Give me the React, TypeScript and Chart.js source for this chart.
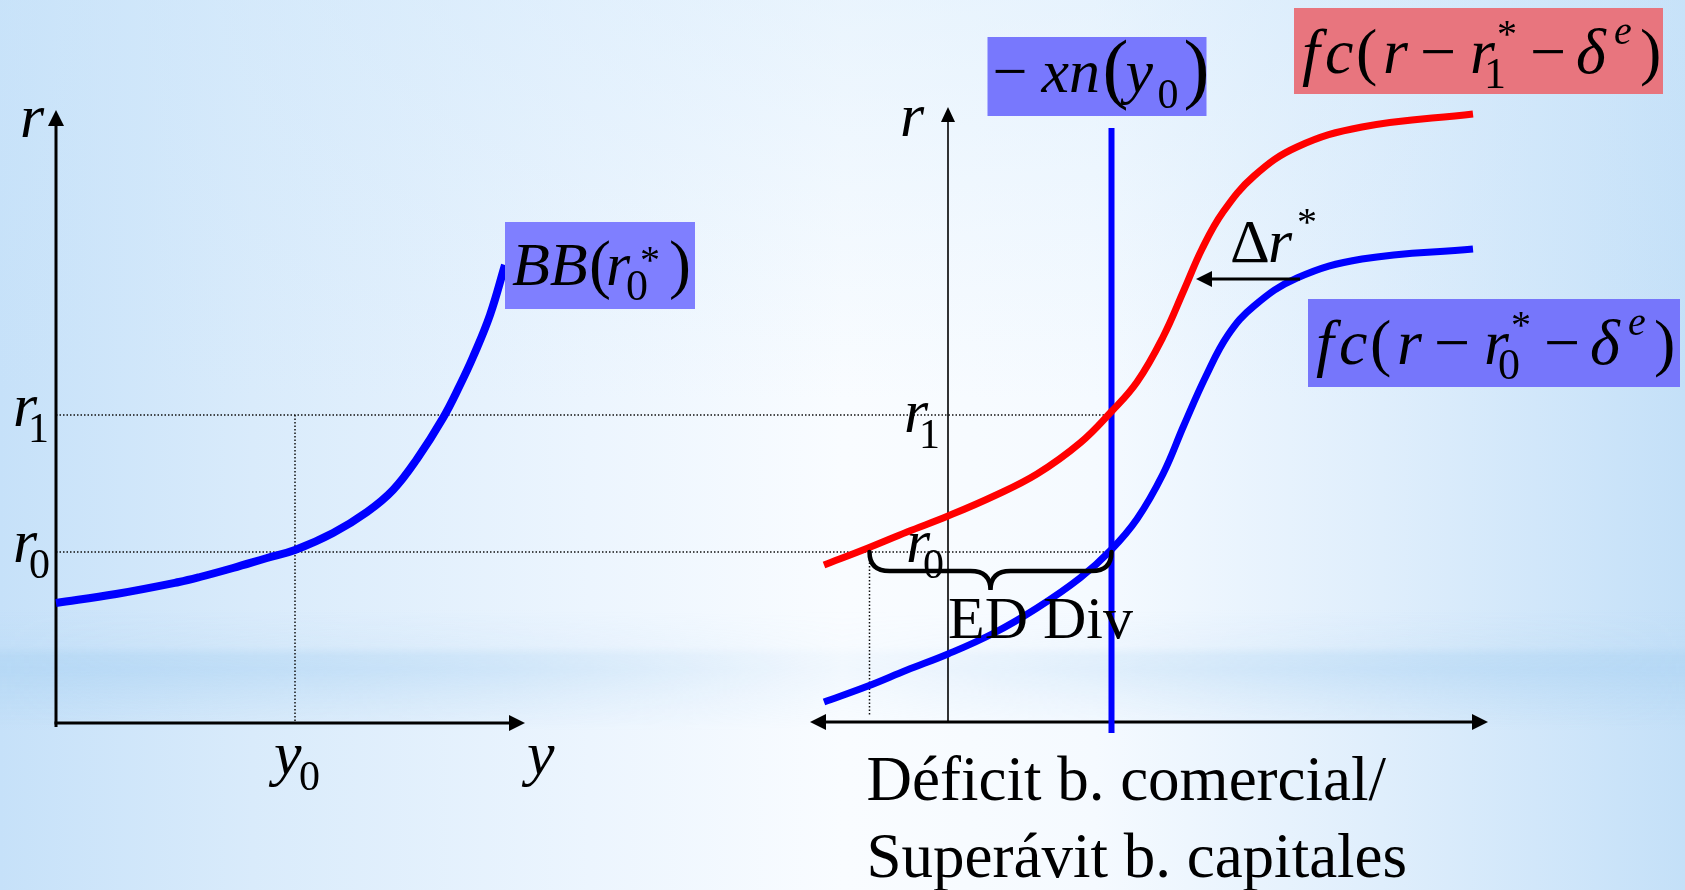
import React, { useEffect, useRef } from 'react';
import { Chart, registerables } from 'chart.js';

Chart.register(...registerables);

// ---------- data (schematic units) ----------
// Left panel: BB(r0*) curve — output y vs interest rate r
const bbY = [0, 0.6, 1.23, 1.44, 1.77, 2.11, 2.39, 2.77, 3.11, 3.37, 3.61, 3.87, 4.04, 4.17, 4.34, 4.49];
const bbR = [1.2, 1.29, 1.41, 1.46, 1.55, 1.65, 1.73, 1.9, 2.11, 2.33, 2.64, 3.05, 3.38, 3.66, 4.08, 4.58];

// Right panel: fc(r - r1* - δe) (red)
const fc1X = [-1.24, -0.8, -0.41, 0.0, 0.46, 0.89, 1.32, 1.63, 1.89, 2.15, 2.36, 2.54, 2.75, 3.06, 3.49, 4.14, 5.25];
const fc1R = [1.58, 1.75, 1.91, 2.07, 2.27, 2.49, 2.8, 3.11, 3.41, 3.86, 4.33, 4.74, 5.11, 5.47, 5.76, 5.96, 6.09];

// Right panel: fc(r - r0* - δe) (blue)
const fc0X = [-1.24, -0.8, -0.41, 0.0, 0.46, 0.89, 1.32, 1.63, 1.89, 2.15, 2.36, 2.58, 2.8, 3.06, 3.49, 4.14, 5.25];
const fc0R = [0.21, 0.37, 0.53, 0.69, 0.9, 1.15, 1.45, 1.73, 2.04, 2.49, 2.98, 3.47, 3.88, 4.17, 4.45, 4.64, 4.74];

// Key levels
const r0 = 1.71;
const r1 = 3.08;
const y0 = 2.39;
const xnLevel = 1.635; // -xn(y0)
const xnRange = [-0.1, 5.95];
const edLeft = -0.785;
const deltaArrowX = [3.52, 2.48];
const deltaArrowR = 4.44;
const leftAxisXMax = 4.69;
const leftAxisRMax = 6.13;
const rightAxisXRange = [-1.38, 5.4];
const rightAxisRMax = 6.16;

// Text
const edLabel = 'ED Div';
const bottomLines = ['Déficit b. comercial/', 'Superávit b. capitales'];

// ---------- styles ----------
const SERIF = '"Liberation Serif", "Times New Roman", Times, serif';
const fI = (s: number) => `italic ${s}px ${SERIF}`;
const fN = (s: number) => `${s}px ${SERIF}`;

type Run = { t: string; f: string; dx: number; dy: number };

function drawRuns(ctx: CanvasRenderingContext2D, x: number, y: number, runs: Run[]) {
  ctx.fillStyle = '#000';
  ctx.textAlign = 'left';
  ctx.textBaseline = 'alphabetic';
  for (const r of runs) {
    ctx.font = r.f;
    ctx.fillText(r.t, x + r.dx, y + r.dy);
  }
}

const fcRuns = (sub: string): Run[] => [
  { t: 'f', f: fI(64), dx: 8, dy: 65 },
  { t: 'c', f: fI(64), dx: 31, dy: 65 },
  { t: '(', f: fN(64), dx: 62, dy: 65 },
  { t: 'r', f: fI(64), dx: 89, dy: 65 },
  { t: '\u2212', f: fN(64), dx: 126, dy: 65 },
  { t: 'r', f: fI(64), dx: 176, dy: 65 },
  { t: sub, f: fN(44), dx: 190, dy: 80 },
  { t: '*', f: fN(40), dx: 203, dy: 39 },
  { t: '\u2212', f: fN(64), dx: 236, dy: 65 },
  { t: '\u03b4', f: fI(64), dx: 282, dy: 65 },
  { t: 'e', f: fI(40), dx: 320, dy: 36 },
  { t: ')', f: fN(64), dx: 346, dy: 65 },
];

const xnRuns: Run[] = [
  { t: '\u2212', f: fN(62), dx: 5, dy: 55 },
  { t: 'xn', f: fI(62), dx: 54, dy: 55 },
  { t: '(', f: fN(78), dx: 115, dy: 57 },
  { t: 'y', f: fI(62), dx: 138, dy: 55 },
  { t: '0', f: fN(42), dx: 170, dy: 71 },
  { t: ')', f: fN(78), dx: 196, dy: 57 },
];

const bbRuns: Run[] = [
  { t: 'BB', f: fI(62), dx: 7, dy: 63 },
  { t: '(', f: fN(66), dx: 84, dy: 64 },
  { t: 'r', f: fI(62), dx: 101, dy: 63 },
  { t: '0', f: fN(44), dx: 121, dy: 78 },
  { t: '*', f: fN(40), dx: 135, dy: 51 },
  { t: ')', f: fN(66), dx: 164, dy: 64 },
];

function line(ctx: CanvasRenderingContext2D, x1: number, y1: number, x2: number, y2: number) {
  ctx.beginPath();
  ctx.moveTo(x1, y1);
  ctx.lineTo(x2, y2);
  ctx.stroke();
}

function arrowHead(ctx: CanvasRenderingContext2D, tx: number, ty: number, dx: number, dy: number, len: number, half: number) {
  const bx = tx - dx * len;
  const by = ty - dy * len;
  const nx = -dy;
  const ny = dx;
  ctx.beginPath();
  ctx.moveTo(tx, ty);
  ctx.lineTo(bx + nx * half, by + ny * half);
  ctx.lineTo(bx - nx * half, by - ny * half);
  ctx.closePath();
  ctx.fill();
}

const backgroundPlugin = {
  id: 'bg',
  beforeDraw(chart: any) {
    const { ctx, width, height } = chart;
    ctx.save();
    const g = ctx.createLinearGradient(0, 0, width, 0);
    g.addColorStop(0, '#c6e1f9');
    g.addColorStop(0.15, '#d9ebfb');
    g.addColorStop(0.35, '#ecf5fe');
    g.addColorStop(0.5, '#f9fcff');
    g.addColorStop(0.65, '#f5faff');
    g.addColorStop(0.82, '#dfeefc');
    g.addColorStop(1, '#c4e0f8');
    ctx.fillStyle = g;
    ctx.fillRect(0, 0, width, height);

    const tg = ctx.createLinearGradient(0, 0, 0, height * 0.45);
    tg.addColorStop(0, 'rgba(205,230,250,0.35)');
    tg.addColorStop(1, 'rgba(205,230,250,0)');
    ctx.fillStyle = tg;
    ctx.fillRect(0, 0, width, height * 0.45);

    const off = document.createElement('canvas');
    off.width = width;
    off.height = height;
    const o = off.getContext('2d') as CanvasRenderingContext2D;
    const vg = o.createLinearGradient(0, 610, 0, 730);
    vg.addColorStop(0, 'rgba(178,214,244,0)');
    vg.addColorStop(0.3, 'rgba(178,214,244,0.2)');
    vg.addColorStop(0.38, 'rgba(178,214,244,0.7)');
    vg.addColorStop(0.5, 'rgba(178,214,244,0.8)');
    vg.addColorStop(0.7, 'rgba(178,214,244,0.45)');
    vg.addColorStop(1, 'rgba(178,214,244,0)');
    o.fillStyle = vg;
    o.fillRect(0, 610, width, 120);
    o.globalCompositeOperation = 'destination-in';
    const hg = o.createLinearGradient(0, 0, width, 0);
    hg.addColorStop(0, 'rgba(0,0,0,1)');
    hg.addColorStop(0.3, 'rgba(0,0,0,0.55)');
    hg.addColorStop(0.5, 'rgba(0,0,0,0.12)');
    hg.addColorStop(0.72, 'rgba(0,0,0,0.5)');
    hg.addColorStop(1, 'rgba(0,0,0,1)');
    o.fillStyle = hg;
    o.fillRect(0, 0, width, height);
    ctx.drawImage(off, 0, 0);
    ctx.restore();
  },
};

const diagramPlugin = {
  id: 'diagram',
  beforeDatasetsDraw(chart: any) {
    const ctx: CanvasRenderingContext2D = chart.ctx;
    const xL = chart.scales.xL;
    const xR = chart.scales.xR;
    const y = chart.scales.yR;
    const P = (s: any, v: number) => s.getPixelForValue(v);
    ctx.save();

    // dotted guides
    ctx.strokeStyle = '#111';
    ctx.lineWidth = 1.5;
    ctx.setLineDash([1.5, 2]);
    line(ctx, P(xL, 0), P(y, r1), P(xR, xnLevel), P(y, r1));
    line(ctx, P(xL, 0), P(y, r0), P(xR, xnLevel), P(y, r0));
    line(ctx, P(xL, y0), P(y, r1), P(xL, y0), P(y, 0));
    line(ctx, P(xR, edLeft), P(y, r0), P(xR, edLeft), P(y, 0.08));
    ctx.setLineDash([]);

    // left axes
    ctx.strokeStyle = '#000';
    ctx.fillStyle = '#000';
    ctx.lineWidth = 3;
    const ax = P(xL, 0);
    const ay = P(y, 0);
    line(ctx, ax, ay + 4, ax, P(y, leftAxisRMax) + 12);
    arrowHead(ctx, ax, P(y, leftAxisRMax), 0, -1, 16, 8);
    line(ctx, ax - 1.5, ay, P(xL, leftAxisXMax) - 12, ay);
    arrowHead(ctx, P(xL, leftAxisXMax), ay, 1, 0, 16, 8);

    // right axes
    const bx = P(xR, 0);
    ctx.lineWidth = 1.6;
    line(ctx, bx, ay, bx, P(y, rightAxisRMax) + 12);
    arrowHead(ctx, bx, P(y, rightAxisRMax), 0, -1, 15, 7);
    ctx.lineWidth = 3;
    const xa = P(xR, rightAxisXRange[0]);
    const xb = P(xR, rightAxisXRange[1]);
    line(ctx, xa + 10, ay - 1, xb - 10, ay - 1);
    arrowHead(ctx, xa, ay - 1, -1, 0, 16, 8);
    arrowHead(ctx, xb, ay - 1, 1, 0, 16, 8);

    // axis labels
    drawRuns(ctx, ax, P(y, leftAxisRMax), [{ t: 'r', f: fI(62), dx: -36, dy: 27 }]);
    drawRuns(ctx, ax, P(y, r1), [
      { t: 'r', f: fI(62), dx: -43, dy: 11 },
      { t: '1', f: fN(42), dx: -28, dy: 27 },
    ]);
    drawRuns(ctx, ax, P(y, r0), [
      { t: 'r', f: fI(62), dx: -43, dy: 10 },
      { t: '0', f: fN(42), dx: -27, dy: 26 },
    ]);
    drawRuns(ctx, P(xL, y0), ay, [
      { t: 'y', f: fI(62), dx: -21, dy: 51 },
      { t: '0', f: fN(42), dx: 4, dy: 67 },
    ]);
    drawRuns(ctx, P(xL, leftAxisXMax), ay, [{ t: 'y', f: fI(62), dx: 2, dy: 51 }]);

    drawRuns(ctx, bx, P(y, rightAxisRMax), [{ t: 'r', f: fI(62), dx: -48, dy: 29 }]);
    drawRuns(ctx, bx, P(y, r1), [
      { t: 'r', f: fI(62), dx: -44, dy: 17 },
      { t: '1', f: fN(42), dx: -29, dy: 33 },
    ]);
    drawRuns(ctx, bx, P(y, r0), [
      { t: 'r', f: fI(62), dx: -42, dy: 10 },
      { t: '0', f: fN(42), dx: -25, dy: 26 },
    ]);

    // bottom caption
    drawRuns(ctx, P(xR, edLeft), ay, [
      { t: bottomLines[0], f: fN(63), dx: -3, dy: 77 },
      { t: bottomLines[1], f: fN(63), dx: -3, dy: 154 },
    ]);
    ctx.restore();
  },
  afterDatasetsDraw(chart: any) {
    const ctx: CanvasRenderingContext2D = chart.ctx;
    const xL = chart.scales.xL;
    const xR = chart.scales.xR;
    const y = chart.scales.yR;
    const P = (s: any, v: number) => s.getPixelForValue(v);
    ctx.save();

    // brace under r0
    const bl = P(xR, edLeft);
    const br = P(xR, xnLevel);
    const top = P(y, r0);
    const mid = top + 19;
    const tip = top + 38;
    const cx = bl + (br - bl) * 0.5;
    ctx.strokeStyle = '#000';
    ctx.lineWidth = 4.5;
    ctx.lineCap = 'round';
    ctx.beginPath();
    ctx.moveTo(bl, top);
    ctx.quadraticCurveTo(bl, mid, bl + 20, mid);
    ctx.lineTo(cx - 20, mid);
    ctx.quadraticCurveTo(cx, mid, cx, tip);
    ctx.quadraticCurveTo(cx, mid, cx + 20, mid);
    ctx.lineTo(br - 20, mid);
    ctx.quadraticCurveTo(br, mid, br, top);
    ctx.stroke();

    // ED Div
    drawRuns(ctx, P(xR, 0), top, [{ t: edLabel, f: fN(60), dx: 0, dy: 86 }]);

    // Δr* arrow
    ctx.lineWidth = 3;
    ctx.lineCap = 'butt';
    ctx.fillStyle = '#000';
    const ar = P(y, deltaArrowR);
    const a1 = P(xR, deltaArrowX[0]);
    const a2 = P(xR, deltaArrowX[1]);
    line(ctx, a1, ar, a2 + 12, ar);
    arrowHead(ctx, a2, ar, -1, 0, 16, 8);
    drawRuns(ctx, a2, ar, [
      { t: '\u0394', f: fN(62), dx: 34, dy: -17 },
      { t: 'r', f: fI(62), dx: 72, dy: -17 },
      { t: '*', f: fN(40), dx: 101, dy: -44 },
    ]);

    // label boxes
    const box = (x: number, yy: number, w: number, h: number, color: string, runs: Run[]) => {
      ctx.fillStyle = color;
      ctx.fillRect(x, yy, w, h);
      drawRuns(ctx, x, yy, runs);
    };
    const bbLast = bbY.length - 1;
    box(P(xL, bbY[bbLast]), P(y, bbR[bbLast]) - 43, 190, 87, '#7f7fff', bbRuns);
    box(P(xR, xnLevel) - 124, P(y, xnRange[1]) - 91, 219, 79, '#7878fd', xnRuns);
    const l1 = fc1X.length - 1;
    box(P(xR, fc1X[l1]) - 179, P(y, fc1R[l1]) - 106, 369, 86, '#e8757e', fcRuns('1'));
    const l0 = fc0X.length - 1;
    box(P(xR, fc0X[l0]) - 165, P(y, fc0R[l0]) + 50, 372, 88, '#7676fb', fcRuns('0'));

    ctx.restore();
  },
};

export default function App() {
  const canvasRef = useRef<HTMLCanvasElement | null>(null);

  useEffect(() => {
    const canvas = canvasRef.current;
    if (!canvas) return;
    const pts = (xs: number[], rs: number[]) => xs.map((v, i) => ({ x: v, y: rs[i] }));
    const curve = {
      showLine: true,
      pointRadius: 0,
      tension: 0.4,
      borderJoinStyle: 'round',
    };
    const chart = new Chart(canvas, {
      type: 'scatter',
      data: {
        datasets: [
          {
            ...curve,
            label: 'BB(r0*)',
            data: pts(bbY, bbR),
            xAxisID: 'xL',
            yAxisID: 'yR',
            borderColor: '#0000ff',
            borderWidth: 8,
          },
          {
            ...curve,
            label: 'fc(r - r1* - δe)',
            data: pts(fc1X, fc1R),
            xAxisID: 'xR',
            yAxisID: 'yR',
            borderColor: '#ff0000',
            borderWidth: 7,
          },
          {
            ...curve,
            label: 'fc(r - r0* - δe)',
            data: pts(fc0X, fc0R),
            xAxisID: 'xR',
            yAxisID: 'yR',
            borderColor: '#0000ff',
            borderWidth: 7,
          },
          {
            label: '-xn(y0)',
            data: [
              { x: xnLevel, y: xnRange[0] },
              { x: xnLevel, y: xnRange[1] },
            ],
            xAxisID: 'xR',
            yAxisID: 'yR',
            showLine: true,
            borderColor: '#0000ff',
            borderWidth: 6,
            pointRadius: 0,
            tension: 0,
          },
        ],
      } as any,
      options: {
        animation: false,
        responsive: false,
        devicePixelRatio: 1,
        events: [],
        layout: { padding: 0 },
        plugins: { legend: { display: false }, tooltip: { enabled: false } },
        scales: {
          xL: { type: 'linear', axis: 'x', display: false, min: -0.56, max: 16.29 },
          xR: { type: 'linear', axis: 'x', display: false, min: -9.48, max: 7.37 },
          yR: { type: 'linear', axis: 'y', display: false, min: -1.67, max: 7.23 },
        },
      } as any,
      plugins: [backgroundPlugin, diagramPlugin],
    });
    return () => chart.destroy();
  }, []);

  return (
    <div style={{ position: 'fixed', left: 0, top: 0, width: 1685, height: 890, overflow: 'hidden' }}>
      <canvas ref={canvasRef} width={1685} height={890} style={{ display: 'block', width: 1685, height: 890 }} />
    </div>
  );
}
